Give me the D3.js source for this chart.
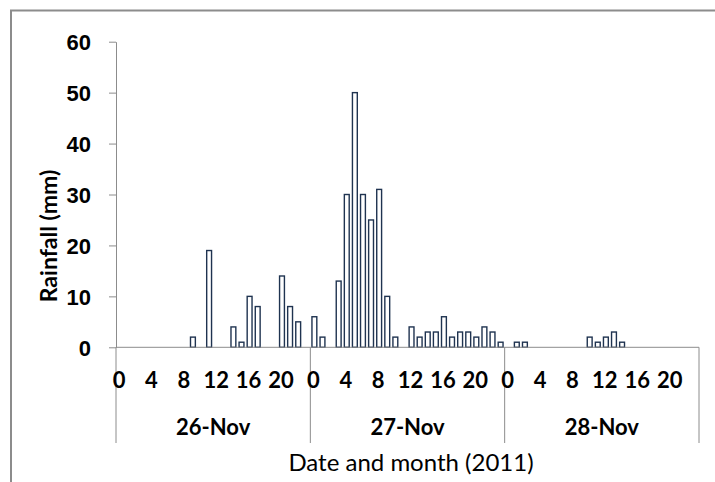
<!DOCTYPE html>
<html lang="en">
<head>
    <meta charset="UTF-8">
    <title>Rainfall</title>
    <style>
        body{
            margin: 0;
            background: white;
        }
        svg{
            display: block;
            font-family: Lato, sans-serif;
        }
        .axis path, .axis line{
            stroke: #8c8c8c;
        }
        .axis text{
            font-size: 22px;
            font-weight: bold;
            fill: black;
        }
        .tickLabel{
            font-size: 22px;
            font-weight: bold;
            text-anchor: middle;
        }
        .dayLabel{
            font-size: 22px;
            font-weight: bold;
            text-anchor: middle;
        }
        .label{
            font-size: 24px;
            text-anchor: middle;
        }
        .bars{
            fill: white;
            stroke: #1f3350;
            stroke-width: 1.4px;
        }
    </style>
    <script src="https://d3js.org/d3.v7.min.js"></script>
</head>
<body>
<svg width="715" height="482" id="figure"></svg>
<script>
    // hourly rainfall (mm), 24 values per day
    let days = ['26-Nov', '27-Nov', '28-Nov']
    let rain_26 = [0,0,0,0,0,0,0,0,0,2,0,19,0,0,4,1,10,8,0,0,14,8,5,0]
    let rain_27 = [6,2,0,13,30,50,30,25,31,10,2,0,4,2,3,3,6,2,3,3,2,4,3,1]
    let rain_28 = [0,1,1,0,0,0,0,0,0,0,2,1,2,3,1,0,0,0,0,0,0,0,0,0]
    let hour_labels = ['0','4','8','12','16','20']
    let y_ticks = [0,10,20,30,40,50,60]

    let data = []
    ;[rain_26, rain_27, rain_28].forEach(function (arr, di){
        arr.forEach(function (v, h){
            data.push({day: days[di], hour: h, key: days[di] + '_' + h, v: v})
        })
    })

    let plotLeft = 116, plotRight = 699, plotTop = 41.7, base = 347.3
    let svg = d3.select('#figure')

    // chart border
    svg.append('rect')
        .attr('x', 11).attr('y', 10.5)
        .attr('width', 730).attr('height', 500)
        .attr('fill', 'none')
        .attr('stroke', '#8c8c8c')
        .attr('stroke-width', 2)

    let xScale = d3.scaleBand()
        .domain(data.map(d => d.key))
        .range([plotLeft, plotRight])
        .paddingInner(0.4)
        .paddingOuter(0.2)
    let dayScale = d3.scaleBand().domain(days).range([plotLeft, plotRight])
    let yScale = d3.scaleLinear().domain([0, 60]).range([base, plotTop])

    // y axis
    let y_axis = d3.axisLeft(yScale).tickValues(y_ticks)
        .tickSizeInner(7).tickSizeOuter(0).tickPadding(18)
    svg.append('g').attr('class', 'axis')
        .attr('transform', `translate(${plotLeft},0)`)
        .call(y_axis)
    svg.selectAll('.axis text').attr('dy', '0.36em')

    // bars
    svg.selectAll('.bars')
        .data(data.filter(d => d.v > 0))
        .enter()
        .append('rect')
        .attr('class', 'bars')
        .attr('x', d => xScale(d.key))
        .attr('width', xScale.bandwidth())
        .attr('y', d => yScale(d.v))
        .attr('height', d => base - yScale(d.v))

    // x axis baseline and day separators
    svg.append('line')
        .attr('x1', plotLeft).attr('x2', plotRight)
        .attr('y1', base).attr('y2', base)
        .attr('stroke', '#8c8c8c')
    let seps = days.map(d => dayScale(d)).concat([plotRight])
    svg.selectAll('.sep')
        .data(seps)
        .enter()
        .append('line')
        .attr('x1', d => d).attr('x2', d => d)
        .attr('y1', base).attr('y2', 443)
        .attr('stroke', '#8c8c8c')

    // hour labels
    let hourData = []
    days.forEach(function (day){
        hour_labels.forEach(function (h){
            hourData.push({key: day + '_' + h, text: h})
        })
    })
    svg.selectAll('.tickLabel')
        .data(hourData)
        .enter()
        .append('text')
        .attr('class', 'tickLabel')
        .attr('x', d => xScale(d.key) + xScale.bandwidth() / 2 - 1)
        .attr('y', 388)
        .text(d => d.text)

    // day labels
    svg.selectAll('.dayLabel')
        .data(days)
        .enter()
        .append('text')
        .attr('class', 'dayLabel')
        .attr('x', d => dayScale(d) + dayScale.bandwidth() / 2)
        .attr('y', 435)
        .text(d => d)

    // axis titles
    svg.append('text')
        .attr('class', 'label')
        .attr('x', 411)
        .attr('y', 471)
        .text('Date and month (2011)')

    svg.append('text')
        .attr('class', 'label')
        .attr('transform', `translate(57,236) rotate(-90)`)
        .style('font-weight', 'bold')
        .style('font-size', '23px')
        .text('Rainfall (mm)')
</script>
</body>
</html>
